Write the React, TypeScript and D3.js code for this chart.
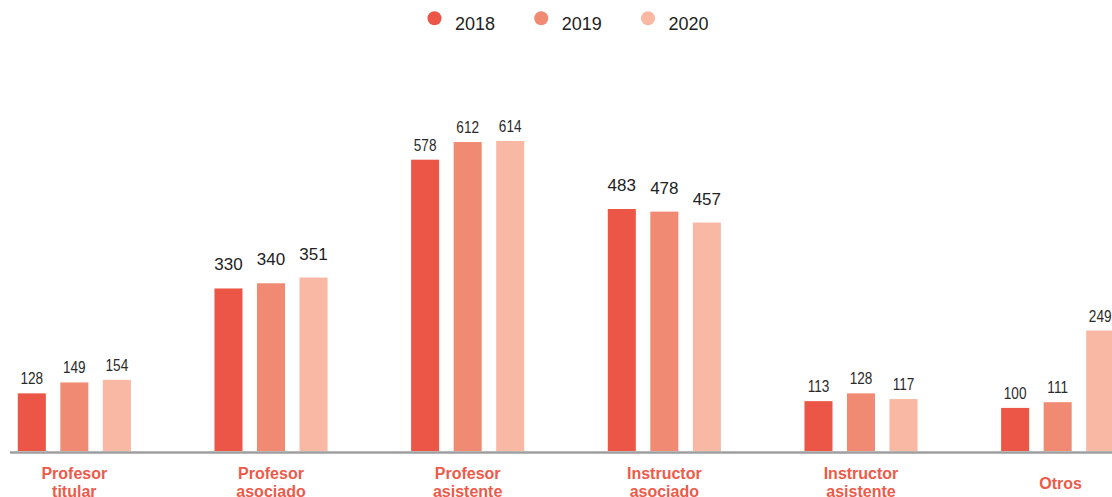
import React from "react";
import * as d3 from "d3";

const categories = [
  "Profesor titular",
  "Profesor asociado",
  "Profesor asistente",
  "Instructor asociado",
  "Instructor asistente",
  "Otros",
];
const years = ["2018", "2019", "2020"];
const values2018 = [128, 330, 578, 483, 113, 100];
const values2019 = [149, 340, 612, 478, 128, 111];
const values2020 = [154, 351, 614, 457, 117, 249];
const seriesValues = [values2018, values2019, values2020];

const colors = ["#EC5646", "#F18A73", "#F8B8A3"];
const labelRed = "#EE5A4A";
const condensedLabelGroups = new Set([0, 2, 4, 5]);

const W = 1112;
const H = 497;
const baseY = 451;

export default function App() {
  const x0 = d3
    .scaleBand<string>()
    .domain(categories)
    .range([-24, 1156])
    .paddingInner(0.425)
    .paddingOuter(0.2125);
  const x1 = d3
    .scaleBand<string>()
    .domain(years)
    .range([0, x0.bandwidth()])
    .paddingInner(0.341);
  const y = d3.scaleLinear().domain([17, 614]).range([baseY, 141]);

  const legendX = d3.scalePoint<string>().domain(years).range([434.5, 648]);

  return (
    <svg
      width={W}
      height={H}
      style={{ position: "absolute", left: 0, top: 0, background: "#fff" }}
      fontFamily="'Liberation Sans', Arial, sans-serif"
    >
      {/* legend */}
      {years.map((yr, i) => (
        <g key={yr}>
          <circle cx={legendX(yr)} cy={18.3} r={7} fill={colors[i]} />
          <text x={(legendX(yr) as number) + 20.5} y={30} fontSize={18} fill="#222">
            {yr}
          </text>
        </g>
      ))}

      {/* bars */}
      {categories.map((cat, ci) => (
        <g key={cat} transform={`translate(${x0(cat)},0)`}>
          {years.map((yr, si) => {
            const v = seriesValues[si][ci];
            const top = y(v);
            const cx = (x1(yr) as number) + x1.bandwidth() / 2;
            const condensed = condensedLabelGroups.has(ci);
            return (
              <g key={yr}>
                <rect
                  x={x1(yr)}
                  y={top}
                  width={x1.bandwidth()}
                  height={baseY - top}
                  fill={colors[si]}
                />
                {condensed ? (
                  <text
                    transform={`translate(${cx},${top - 9}) scale(0.8,1)`}
                    textAnchor="middle"
                    fontSize={17}
                    fill="#2a2a2a"
                  >
                    {v}
                  </text>
                ) : (
                  <text
                    x={cx}
                    y={top - 18}
                    textAnchor="middle"
                    fontSize={17}
                    fill="#222"
                  >
                    {v}
                  </text>
                )}
              </g>
            );
          })}
        </g>
      ))}

      {/* axis line */}
      <line x1={10} x2={W} y1={452.5} y2={452.5} stroke="#9e9e9e" strokeWidth={2.5} />

      {/* category labels */}
      {categories.map((cat) => {
        const cx = (x0(cat) as number) + x0.bandwidth() / 2;
        const words = cat.split(" ");
        if (words.length === 1) {
          return (
            <text
              key={cat}
              x={cx + 3}
              y={488.5}
              textAnchor="middle"
              fontSize={16}
              fontWeight="bold"
              fill={labelRed}
            >
              {cat}
            </text>
          );
        }
        return (
          <text
            key={cat}
            x={cx}
            y={479}
            textAnchor="middle"
            fontSize={16}
            fontWeight="bold"
            fill={labelRed}
          >
            {words.map((w, i) => (
              <tspan key={i} x={cx} dy={i === 0 ? 0 : 18}>
                {w}
              </tspan>
            ))}
          </text>
        );
      })}
    </svg>
  );
}
